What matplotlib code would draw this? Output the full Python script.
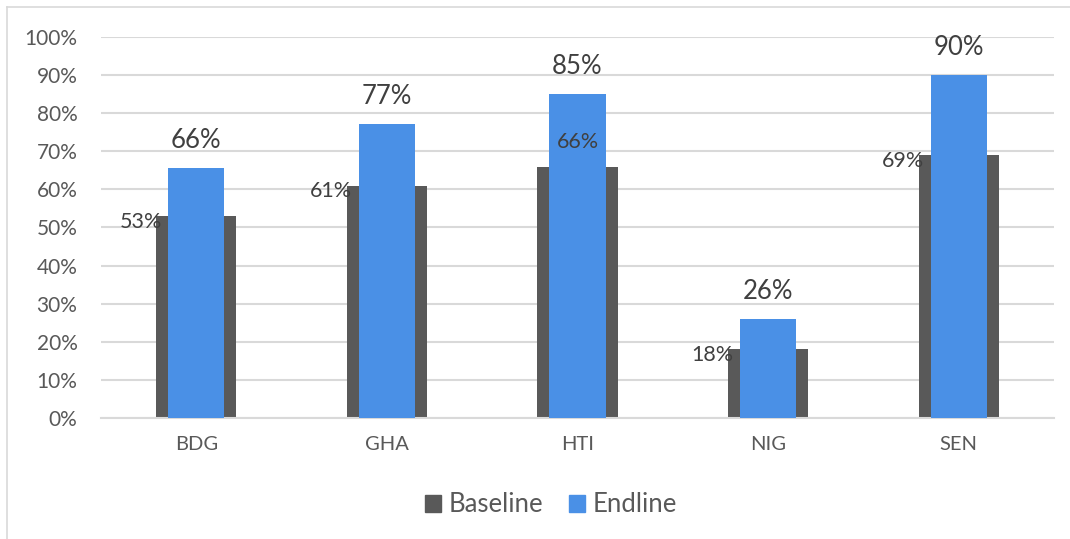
import matplotlib.pyplot as plt
from matplotlib.lines import Line2D
from matplotlib.patches import Patch

countries = ['BDG', 'GHA', 'HTI', 'NIG', 'SEN']
baseline = [0.53, 0.61, 0.66, 0.18, 0.69]
endline = [0.656, 0.772, 0.85, 0.26, 0.90]

gray = '#595959'
blue = '#4a90e6'
grid = '#d9d9d9'

plt.rcParams['font.family'] = ['Lato', 'DejaVu Sans']

fig = plt.figure(figsize=[10.7, 5.39], dpi=100)
ax = fig.add_axes([0.0944, 0.2245, 0.8906, 0.7069])

x = list(range(len(countries)))
ax.bar(x, baseline, width=0.42, color=gray, zorder=2)
ax.bar(x, endline, width=0.295, color=blue, zorder=3)

for i in x:
    if countries[i] == 'HTI':
        # this one sits on top of the endline bar
        ax.annotate('{:.0%}'.format(baseline[i]), (i, baseline[i]),
                    xytext=(0, 18), textcoords='offset points', ha='center', va='center',
                    fontsize=15.5, color='#404040', zorder=4)
    else:
        ax.annotate('{:.0%}'.format(baseline[i]), (i - 0.21, baseline[i]),
                    xytext=(4, -4), textcoords='offset points', ha='right', va='center',
                    fontsize=15.5, color='#404040', zorder=4)
    ax.annotate('{:.0%}'.format(endline[i]), (i, endline[i]),
                xytext=(0, 20), textcoords='offset points', ha='center', va='center',
                fontsize=18.5, color='#404040', zorder=4)

ax.set_xlim(-0.5, 4.5)
ax.set_ylim(0, 1)
ax.set_yticks([i / 10 for i in range(11)])
ax.set_yticklabels(['{}%'.format(i * 10) for i in range(11)])
ax.set_xticks(x)
ax.set_xticklabels(countries)
ax.tick_params(axis='both', length=0, labelsize=15, colors=gray)
ax.tick_params(axis='y', pad=17)
ax.tick_params(axis='x', labelsize=14.5, pad=13)

ax.grid(axis='y', color=grid, linewidth=1.5, zorder=0)
ax.set_axisbelow(True)
for s in ['top', 'right', 'left']:
    ax.spines[s].set_visible(False)
ax.spines['bottom'].set_color(grid)
ax.spines['bottom'].set_linewidth(1.5)

# outer chart frame
fig.add_artist(Line2D([7 / 1070, 1], [1 - 7 / 539, 1 - 7 / 539], color=grid, linewidth=1.2))
fig.add_artist(Line2D([7 / 1070, 7 / 1070], [0, 1 - 7 / 539], color=grid, linewidth=1.2))

handles = [Patch(color=gray, label='Baseline'), Patch(color=blue, label='Endline')]
fig.legend(handles=handles, loc='center', bbox_to_anchor=(0.515, 1 - 505 / 539), ncol=2,
           frameon=False, fontsize=18.5, labelcolor=gray, handlelength=0.62, handleheight=0.62,
           handletextpad=0.3, columnspacing=1.0)

fig.savefig('out.png', dpi=100)
